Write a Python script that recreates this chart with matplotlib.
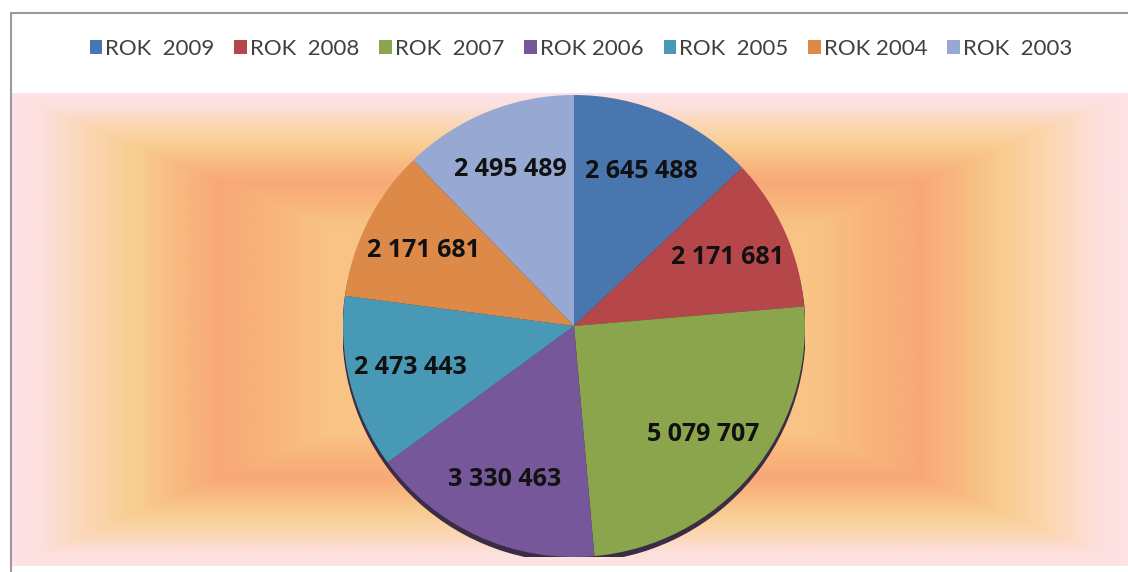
import numpy as np
import matplotlib
matplotlib.use("Agg")
import matplotlib.pyplot as plt
from matplotlib.colors import LinearSegmentedColormap
from matplotlib.patches import Rectangle, Patch, Circle

# dane
years = ["ROK  2009", "ROK  2008", "ROK  2007", "ROK 2006", "ROK  2005", "ROK 2004", "ROK  2003"]
values = [2645488, 2171681, 5079707, 3330463, 2473443, 2171681, 2495489]
value_labels = ["2 645 488", "2 171 681", "5 079 707", "3 330 463", "2 473 443", "2 171 681", "2 495 489"]
colors = ["#4a76b0", "#b5474a", "#8aa54c", "#76579a", "#4799b5", "#dd8a49", "#97a9d3"]

W, H = 1128, 572
fig = plt.figure(figsize=(W / 100, H / 100), dpi=100)
fig.patch.set_facecolor("white")

def px(x0, y0, x1, y1):
    # pixel box (top-left origin) -> figure fraction rect
    return [x0 / W, 1 - y1 / H, (x1 - x0) / W, (y1 - y0) / H]

# tło z gradientem prostokątnym
bg = fig.add_axes(px(12, 93, 1128, 566))
nx, ny = 600, 300
u = np.linspace(0, 1, nx)
v = np.linspace(0, 1, ny)
U, V = np.meshgrid(u, v)
d = np.minimum(np.minimum(U, 1 - U), np.minimum(V, 1 - V)) / 0.5
stops = [(0.0, "#fde3e6"), (0.05, "#fde0dc"), (0.14, "#fbd6b0"), (0.22, "#f9cd90"),
         (0.30, "#f8b980"), (0.37, "#f8a878"), (0.46, "#f8b47a"), (0.56, "#f9c386"),
         (1.0, "#f9c585")]
cmap = LinearSegmentedColormap.from_list("bg", stops)
bg.imshow(d, cmap=cmap, vmin=0, vmax=1, aspect="auto", interpolation="bilinear")
bg.set_axis_off()

# ramka
fig.patches.append(Rectangle((11 / W, -0.1), 1.2, 1 - 13 / H + 0.1, transform=fig.transFigure,
                             fill=False, edgecolor="#9a9a9a", linewidth=1.5))

# wykres kołowy
cx, cy, r = 574, 326, 231
ax = fig.add_axes(px(cx - r, cy - r, cx + r, cy + r))
ax.add_patch(Circle((0, -0.02), 1.0, color="#3b2c45", zorder=0))
wedges, _ = ax.pie(values, colors=colors, startangle=90, counterclock=False, radius=1.0,
                   wedgeprops=dict(linewidth=0))
for w, lab in zip(wedges, value_labels):
    ang = np.deg2rad((w.theta1 + w.theta2) / 2)
    ax.text(0.73 * np.cos(ang), 0.73 * np.sin(ang), lab, ha="center", va="center",
            fontsize=18, fontweight="bold", family=["Open Sans", "DejaVu Sans"], color="#111111")
ax.set_xlim(-1, 1)
ax.set_ylim(-1, 1)
ax.set_aspect("equal")
ax.set_axis_off()

# legenda
handles = [Patch(facecolor=c, edgecolor="none") for c in colors]
fig.legend(handles, years, loc="center", bbox_to_anchor=(0.515, 1 - 49 / H), ncol=7, frameon=False,
           prop=dict(family=["Lato", "DejaVu Sans"], size=16), labelcolor="#404040",
           handlelength=0.55, handleheight=0.55, handletextpad=0.15, columnspacing=0.9)

fig.savefig("out.png", dpi=100)
